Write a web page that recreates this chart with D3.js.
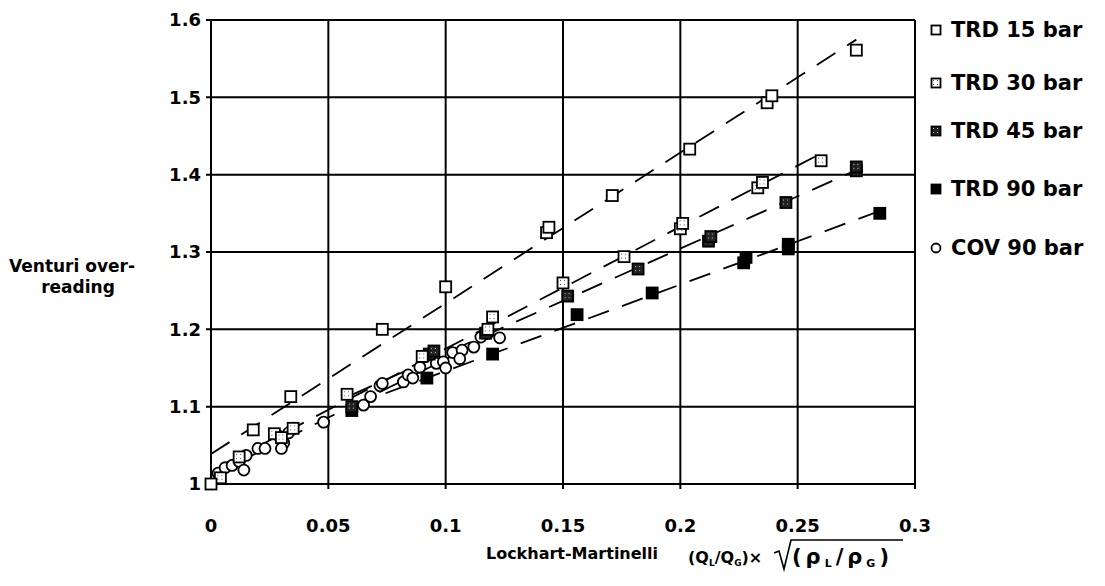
<!DOCTYPE html>
<html>
<head>
<meta charset="utf-8">
<script src="https://cdn.jsdelivr.net/npm/d3@7"></script>
<style>
  body { margin: 0; background: #fff; }
  text { font-family: "DejaVu Sans", sans-serif; font-weight: bold; fill: #000; }
</style>
</head>
<body>
<svg id="chart" width="1105" height="586"></svg>
<script>
// tick values
const xTicks = [0, 0.05, 0.1, 0.15, 0.2, 0.25, 0.3];
const yTicks = [1, 1.1, 1.2, 1.3, 1.4, 1.5, 1.6];

// series: [LM parameter, over-reading]
const trd15 = [[0, 1.0], [0.018, 1.07], [0.034, 1.113], [0.073, 1.2], [0.1, 1.255], [0.143, 1.325],
  [0.144, 1.332], [0.171, 1.373], [0.204, 1.433], [0.237, 1.493], [0.239, 1.502], [0.275, 1.561]];
const trd30 = [[0.004, 1.008], [0.012, 1.035], [0.027, 1.065], [0.03, 1.06], [0.035, 1.072], [0.058, 1.116],
  [0.09, 1.165], [0.118, 1.2], [0.12, 1.216], [0.15, 1.26], [0.176, 1.294], [0.2, 1.33], [0.201, 1.337],
  [0.233, 1.383], [0.235, 1.39], [0.26, 1.418]];
const trd45 = [[0.06, 1.1], [0.093, 1.168], [0.095, 1.172], [0.117, 1.195], [0.152, 1.243], [0.182, 1.278],
  [0.212, 1.314], [0.213, 1.32], [0.245, 1.364], [0.275, 1.405], [0.275, 1.41]];
const trd90 = [[0.06, 1.095], [0.092, 1.137], [0.12, 1.168], [0.156, 1.219], [0.188, 1.247], [0.227, 1.286],
  [0.228, 1.293], [0.246, 1.304], [0.246, 1.31], [0.285, 1.35]];
const cov90 = [[0.003, 1.014], [0.006, 1.021], [0.009, 1.024], [0.012, 1.029], [0.014, 1.018], [0.015, 1.037],
  [0.02, 1.046], [0.023, 1.046], [0.028, 1.064], [0.03, 1.057], [0.031, 1.053], [0.03, 1.046], [0.033, 1.066],
  [0.048, 1.08], [0.065, 1.102], [0.068, 1.113], [0.072, 1.127], [0.073, 1.13], [0.082, 1.132], [0.084, 1.141],
  [0.086, 1.137], [0.089, 1.151], [0.096, 1.156], [0.099, 1.158], [0.1, 1.15], [0.103, 1.17], [0.107, 1.173],
  [0.106, 1.162], [0.112, 1.177], [0.115, 1.19], [0.118, 1.195], [0.123, 1.189]];

const seriesNames = ['TRD 15 bar', 'TRD 30 bar', 'TRD 45 bar', 'TRD 90 bar', 'COV 90 bar'];
const seriesData = [trd15, trd30, trd45, trd90, cov90];
const seriesMarks = ['open', 'dotted', 'hatched', 'solid', 'circle'];

const svg = d3.select('#chart');
svg.append('rect').attr('width', 1105).attr('height', 586).attr('fill', '#fff');

const defs = svg.append('defs');
const p30 = defs.append('pattern').attr('id', 'p30').attr('patternUnits', 'userSpaceOnUse')
  .attr('width', 4).attr('height', 4);
p30.append('rect').attr('width', 4).attr('height', 4).attr('fill', '#fff');
p30.append('rect').attr('x', 1).attr('y', 1).attr('width', 1).attr('height', 1).attr('fill', '#555');
const p45 = defs.append('pattern').attr('id', 'p45').attr('patternUnits', 'userSpaceOnUse')
  .attr('width', 4).attr('height', 4);
p45.append('rect').attr('width', 4).attr('height', 4).attr('fill', '#222');
p45.append('rect').attr('x', 1).attr('y', 1).attr('width', 1).attr('height', 1).attr('fill', '#bbb');

const L = 211, R = 915, T = 20, B = 484;
const x = d3.scaleLinear().domain([0, 0.3]).range([L, R]);
const y = d3.scaleLinear().domain([1, 1.6]).range([B, T]);

// grid
const grid = svg.append('g').attr('stroke', '#000').attr('stroke-width', 2);
grid.selectAll('line.h').data(yTicks).enter().append('line')
  .attr('x1', L - 5).attr('x2', R).attr('y1', d => y(d)).attr('y2', d => y(d));
grid.selectAll('line.v').data(xTicks).enter().append('line')
  .attr('y1', T).attr('y2', B + 5).attr('x1', d => x(d)).attr('x2', d => x(d));

// tick labels
svg.append('g').selectAll('text').data(yTicks).enter().append('text')
  .attr('x', L - 10).attr('y', d => y(d)).attr('dy', '0.35em')
  .attr('text-anchor', 'end').attr('font-size', 18).text(d => d3.format('')(d));
svg.append('g').selectAll('text').data(xTicks).enter().append('text')
  .attr('x', d => x(d)).attr('y', 532)
  .attr('text-anchor', 'middle').attr('font-size', 18).text(d => d3.format('')(d));

// dashed least-squares lines
function fit(pts) {
  const mx = d3.mean(pts, p => p[0]), my = d3.mean(pts, p => p[1]);
  let sxy = 0, sxx = 0;
  pts.forEach(p => { sxy += (p[0] - mx) * (p[1] - my); sxx += (p[0] - mx) ** 2; });
  const b = sxy / sxx, a = my - b * mx;
  const [x0, x1] = d3.extent(pts, p => p[0]);
  return [[x0, a + b * x0], [x1, a + b * x1]];
}
svg.append('g').selectAll('line').data(seriesData.map(fit)).enter().append('line')
  .attr('x1', d => x(d[0][0])).attr('y1', d => y(d[0][1]))
  .attr('x2', d => x(d[1][0])).attr('y2', d => y(d[1][1]))
  .attr('stroke', '#000').attr('stroke-width', 1.8).attr('stroke-dasharray', '22,14');

function drawMark(g, kind, s) {
  if (kind === 'circle') {
    g.append('circle').attr('r', s / 2).attr('fill', '#fff').attr('stroke', '#000').attr('stroke-width', 1.8);
    return;
  }
  const fill = { open: '#fff', dotted: 'url(#p30)', hatched: 'url(#p45)', solid: '#000' }[kind];
  g.append('rect').attr('x', -s / 2).attr('y', -s / 2).attr('width', s).attr('height', s)
    .attr('fill', fill).attr('stroke', '#000').attr('stroke-width', 1.8);
}

// markers, drawn back to front like the original
[4, 3, 2, 1, 0].forEach(i => {
  svg.append('g').selectAll('g').data(seriesData[i]).enter().append('g')
    .attr('transform', d => `translate(${x(d[0])},${y(d[1])})`)
    .each(function () { drawMark(d3.select(this), seriesMarks[i], 11); });
});

// legend
const legY = [30, 83, 131, 189, 248];
seriesNames.forEach((name, i) => {
  const g = svg.append('g').attr('transform', `translate(936,${legY[i]})`);
  drawMark(g, seriesMarks[i], 9);
  g.append('text').attr('x', 15).attr('dy', '0.35em').attr('font-size', 21).text(name);
});

// axis titles
svg.append('text').attr('x', 72).attr('y', 272).attr('text-anchor', 'middle')
  .attr('font-size', 17).text('Venturi over-');
svg.append('text').attr('x', 78).attr('y', 293).attr('text-anchor', 'middle')
  .attr('font-size', 17).text('reading');
svg.append('text').attr('x', 572).attr('y', 559).attr('text-anchor', 'middle')
  .attr('font-size', 16).text('Lockhart-Martinelli');

// formula (Q_L/Q_G) x sqrt(rho_L/rho_G)
const f = svg.append('text').attr('x', 688).attr('y', 563).attr('font-size', 16);
f.append('tspan').text('(Q');
f.append('tspan').attr('font-size', 9).attr('dy', 3).text('L');
f.append('tspan').attr('dy', -3).text('/Q');
f.append('tspan').attr('font-size', 9).attr('dy', 3).text('G');
f.append('tspan').attr('dy', -3).text(')×');
const f2 = svg.append('text').attr('x', 792).attr('y', 564).attr('font-size', 21)
  .attr('letter-spacing', 4);
f2.append('tspan').text('(ρ');
f2.append('tspan').attr('font-size', 11).attr('dy', 3).text('L');
f2.append('tspan').attr('dy', -3).text('/ρ');
f2.append('tspan').attr('font-size', 11).attr('dy', 3).text('G');
f2.append('tspan').attr('dy', -3).text(')');
svg.append('path').attr('d', 'M774,553 L779,551 L784,569 L791,540 L903,540')
  .attr('fill', 'none').attr('stroke', '#000').attr('stroke-width', 1.6);
</script>
</body>
</html>
